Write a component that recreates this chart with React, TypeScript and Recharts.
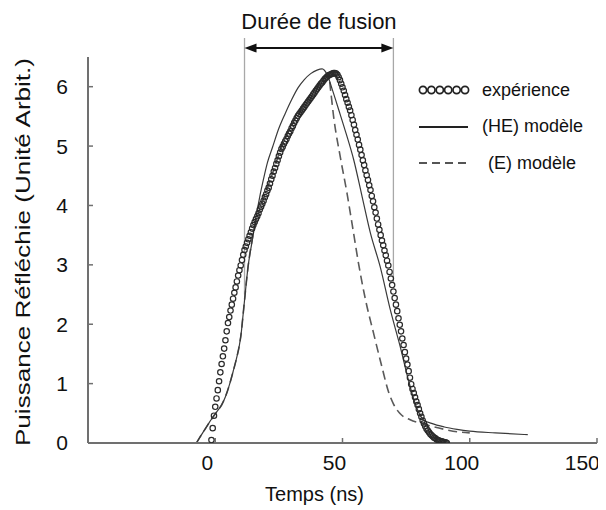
import React from 'react';
import { ComposedChart, Line, XAxis, YAxis, ReferenceLine, Label } from 'recharts';

const FONT = '"Liberation Sans", Arial, Helvetica, sans-serif';

// Experiment (circles): sampled every 0.5 ns starting at -1.5 ns
const expStart = -1.5;
const expStep = 0.5;
const expValues = [
  0.05, 0.25, 0.46, 0.61, 0.75, 0.89, 1.04, 1.19, 1.33, 1.46,
  1.59, 1.73, 1.88, 2.02, 2.12, 2.23, 2.33, 2.43, 2.53, 2.62,
  2.72, 2.82, 2.91, 2.99, 3.08, 3.17, 3.25, 3.31, 3.37, 3.43,
  3.49, 3.55, 3.61, 3.67, 3.72, 3.77, 3.82, 3.87, 3.93, 3.98,
  4.03, 4.08, 4.14, 4.19, 4.25, 4.30, 4.37, 4.44, 4.50, 4.57,
  4.63, 4.70, 4.76, 4.83, 4.89, 4.95, 4.99, 5.04, 5.08, 5.12,
  5.17, 5.21, 5.25, 5.30, 5.34, 5.39, 5.43, 5.47, 5.51, 5.54,
  5.57, 5.60, 5.63, 5.66, 5.69, 5.72, 5.75, 5.78, 5.81, 5.84,
  5.87, 5.90, 5.93, 5.96, 5.99, 6.02, 6.05, 6.07, 6.10, 6.13,
  6.15, 6.17, 6.19, 6.20, 6.21, 6.22, 6.23, 6.23, 6.22, 6.20,
  6.16, 6.11, 6.05, 5.99, 5.93, 5.86, 5.79, 5.73, 5.66, 5.60,
  5.52, 5.44, 5.36, 5.27, 5.19, 5.11, 5.02, 4.94, 4.85, 4.76,
  4.68, 4.59, 4.51, 4.43, 4.34, 4.26, 4.16, 4.07, 3.97, 3.88,
  3.78, 3.68, 3.59, 3.50, 3.41, 3.33, 3.24, 3.16, 3.07, 2.99,
  2.88, 2.77, 2.66, 2.55, 2.44, 2.33, 2.22, 2.10, 1.99, 1.88,
  1.76, 1.65, 1.53, 1.42, 1.32, 1.21, 1.10, 0.99, 0.91, 0.84,
  0.77, 0.70, 0.64, 0.57, 0.50, 0.44, 0.38, 0.33, 0.28, 0.24,
  0.21, 0.18, 0.15, 0.13, 0.11, 0.09, 0.08, 0.06, 0.05, 0.04,
  0.03, 0.03, 0.02, 0.01, 0.01, 0.00,
];

// (HE) modèle – solid line
const heTimes = [
  -7.4, -6, -4.5, -3, -1.5, 0.5, 2.5, 4, 5.5, 7, 8.5, 9.5, 10.2, 10.8, 11.5, 12.2, 12.9,
  14.5, 16, 17.5, 19, 20.5, 22.5, 25, 27.5, 30, 32.5, 35, 37.5, 40, 42, 44, 46, 48.6,
  51.5, 54.4, 57.7, 61, 64.8, 68.8, 72.7, 75.9, 78.5, 81.8, 85, 90, 95, 100, 110, 122.8,
];
const heValues = [
  0, 0.1, 0.2, 0.3, 0.4, 0.52, 0.64, 0.78, 0.97, 1.2, 1.45, 1.65, 1.85, 2.1, 2.4, 2.7, 2.97,
  3.4, 3.8, 4.15, 4.45, 4.72, 4.98, 5.3, 5.55, 5.78, 5.98, 6.12, 6.22, 6.28, 6.3, 6.2, 5.95, 5.6,
  5.2, 4.77, 4.15, 3.53, 2.97, 2.24, 1.62, 1.06, 0.67, 0.39, 0.33, 0.27, 0.23, 0.2, 0.17, 0.14,
];

// (E) modèle – dashed line
const eTimes = [
  -7.4, -6, -4.5, -3, -1.5, 0.5, 2.5, 4, 5.5, 7, 8.5, 9.5, 10.2, 10.8, 11.5, 12.2, 12.9,
  14.5, 16.5, 19, 22, 26, 30, 34, 38, 41, 43, 44.5, 45.3, 46.5, 49.2, 51.8, 53.8, 56.4,
  59, 62.2, 65.5, 68.1, 70, 72.5, 76.6, 81.8, 86, 90, 95, 100,
];
const eValues = [
  0, 0.1, 0.2, 0.3, 0.4, 0.52, 0.64, 0.78, 0.97, 1.2, 1.45, 1.65, 1.85, 2.1, 2.4, 2.7, 2.97,
  3.42, 3.8, 4.12, 4.48, 4.98, 5.35, 5.65, 5.9, 6.06, 6.15, 6.2, 5.95, 5.5, 4.8, 4.2, 3.68, 3.0,
  2.42, 1.85, 1.28, 0.86, 0.66, 0.5, 0.39, 0.32, 0.27, 0.23, 0.19, 0.17,
];

const xTicks = [0, 50, 100, 150];
const xTopTicks = [0, 50, 100];
const yTicks = [0, 1, 2, 3, 4, 5, 6];
const xDomain = [-50, 150];
const yDomain = [0, 6.5];

const meltStart = 11.5;
const meltEnd = 70;
const meltStartLow = 2.5;
const meltEndLow = 2.7;
const markTop = 6.82;
const arrowLevel = 6.65;

const title = 'Durée de fusion';
const xLabel = 'Temps (ns)';
const yLabel = 'Puissance Réfléchie (Unité Arbit.)';
const legendLabels = ['expérience', '(HE) modèle', '(E) modèle'];

const expData = expValues.map((y, i) => ({ x: expStart + i * expStep, y }));
const heData = heTimes.map((x, i) => ({ x, y: heValues[i] }));
const eData = eTimes.map((x, i) => ({ x, y: eValues[i] }));

const AXIS = '#707070';

const ArrowShape = (props: any) => {
  const { x1, y1, x2, y2 } = props;
  const head = 12;
  const half = 4.5;
  const mid = (x1 + x2) / 2;
  return (
    <g>
      <line x1={x1 + 4} y1={y1} x2={x2 - 4} y2={y2} stroke="#111" strokeWidth={2} />
      <polygon points={`${x1},${y1} ${x1 + head},${y1 - half} ${x1 + head},${y1 + half}`} fill="#111" />
      <polygon points={`${x2},${y2} ${x2 - head},${y2 - half} ${x2 - head},${y2 + half}`} fill="#111" />
      <text x={mid} y={y1 - 19} textAnchor="middle" fontFamily={FONT} fontSize={22} fill="#111">
        {title}
      </text>
    </g>
  );
};

const YLabelContent = (props: any) => {
  const vb = props.viewBox || { x: 30, y: 49, width: 50, height: 386 };
  const cx = vb.x - 16;
  const cy = vb.y + vb.height / 2 + 2;
  return (
    <text
      x={cx}
      y={cy}
      transform={`rotate(-90, ${cx}, ${cy})`}
      textAnchor="middle"
      dominantBaseline="central"
      fontFamily={FONT}
      fontSize={21}
      fill="#111"
      textLength={388}
      lengthAdjust="spacingAndGlyphs"
    >
      {yLabel}
    </text>
  );
};

const LegendBox = () => {
  const rowStyle: React.CSSProperties = { display: 'flex', alignItems: 'center', height: 36.5 };
  return (
    <div
      style={{
        position: 'absolute',
        left: 410,
        top: 64,
        width: 185,
        fontFamily: FONT,
        fontSize: 18,
        color: '#111',
        pointerEvents: 'none',
      }}
    >
      <div style={rowStyle}>
        <svg width={52} height={12}>
          {[0, 1, 2, 3, 4, 5].map((k) => (
            <circle key={k} cx={5 + k * 8.4} cy={6} r={3.6} fill="none" stroke="#222" strokeWidth={1.7} />
          ))}
        </svg>
        <span style={{ marginLeft: 12 }}>{legendLabels[0]}</span>
      </div>
      <div style={rowStyle}>
        <svg width={52} height={12}>
          <line x1={1} y1={6} x2={50} y2={6} stroke="#222" strokeWidth={2} />
        </svg>
        <span style={{ marginLeft: 12 }}>{legendLabels[1]}</span>
      </div>
      <div style={rowStyle}>
        <svg width={52} height={12}>
          <line x1={1} y1={6} x2={50} y2={6} stroke="#555" strokeWidth={2} strokeDasharray="8 5" />
        </svg>
        <span style={{ marginLeft: 18 }}>{legendLabels[2]}</span>
      </div>
    </div>
  );
};

export default function App() {
  return (
    <div style={{ width: 598, height: 502, position: 'relative', background: '#fff' }}>
      <ComposedChart width={598} height={502} margin={{ top: 49, right: 9, bottom: 27, left: 30 }}>
        <XAxis
          xAxisId="b"
          type="number"
          dataKey="x"
          domain={xDomain}
          ticks={xTicks}
          allowDataOverflow
          height={40}
          tickSize={-5}
          tickMargin={17}
          axisLine={{ stroke: AXIS, strokeWidth: 2 }}
          tickLine={{ stroke: AXIS, strokeWidth: 1.5 }}
          tick={{ fontSize: 21, fill: '#111', fontFamily: FONT, dx: -8 }}
        >
          <Label value={xLabel} position="bottom" offset={4} dx={-28} fontSize={20} fill="#111" fontFamily={FONT} />
        </XAxis>
        <XAxis
          xAxisId="t"
          orientation="top"
          type="number"
          dataKey="x"
          domain={xDomain}
          ticks={xTopTicks}
          allowDataOverflow
          height={0}
          tickSize={-5}
          tick={false}
          axisLine={{ stroke: AXIS, strokeWidth: 2 }}
          tickLine={{ stroke: AXIS, strokeWidth: 1.5 }}
        />
        <YAxis
          yAxisId="l"
          type="number"
          domain={yDomain}
          ticks={yTicks}
          allowDataOverflow
          width={50}
          tickSize={-5}
          tickMargin={25}
          axisLine={{ stroke: AXIS, strokeWidth: 2 }}
          tickLine={{ stroke: AXIS, strokeWidth: 1.5 }}
          tick={{ fontSize: 21, fill: '#111', fontFamily: FONT }}
        >
          <Label content={<YLabelContent />} />
        </YAxis>
        <YAxis
          yAxisId="r"
          orientation="right"
          type="number"
          domain={yDomain}
          ticks={yTicks}
          allowDataOverflow
          width={0}
          tickSize={-5}
          tick={false}
          axisLine={{ stroke: AXIS, strokeWidth: 2 }}
          tickLine={{ stroke: AXIS, strokeWidth: 1.5 }}
        />

        <ReferenceLine
          xAxisId="b"
          yAxisId="l"
          segment={[{ x: meltStart, y: markTop }, { x: meltStart, y: meltStartLow }]}
          stroke="#a8a8a8"
          strokeWidth={1.3}
          ifOverflow="visible"
        />
        <ReferenceLine
          xAxisId="b"
          yAxisId="l"
          segment={[{ x: meltEnd, y: markTop }, { x: meltEnd, y: meltEndLow }]}
          stroke="#a8a8a8"
          strokeWidth={1.3}
          ifOverflow="visible"
        />
        <ReferenceLine
          xAxisId="b"
          yAxisId="l"
          segment={[{ x: meltStart, y: arrowLevel }, { x: meltEnd, y: arrowLevel }]}
          ifOverflow="visible"
          shape={ArrowShape}
        />

        <Line
          xAxisId="b"
          yAxisId="l"
          data={eData}
          dataKey="y"
          type="monotone"
          stroke="#5a5a5a"
          strokeWidth={1.6}
          strokeDasharray="9 5"
          dot={false}
          activeDot={false}
          isAnimationActive={false}
        />
        <Line
          xAxisId="b"
          yAxisId="l"
          data={heData}
          dataKey="y"
          type="monotone"
          stroke="#3a3a3a"
          strokeWidth={1.2}
          dot={false}
          activeDot={false}
          isAnimationActive={false}
        />
        <Line
          xAxisId="b"
          yAxisId="l"
          data={expData}
          dataKey="y"
          stroke="none"
          dot={{ r: 2.7, fill: 'none', stroke: '#2a2a2a', strokeWidth: 1.2 }}
          activeDot={false}
          isAnimationActive={false}
        />
      </ComposedChart>
      <LegendBox />
    </div>
  );
}
